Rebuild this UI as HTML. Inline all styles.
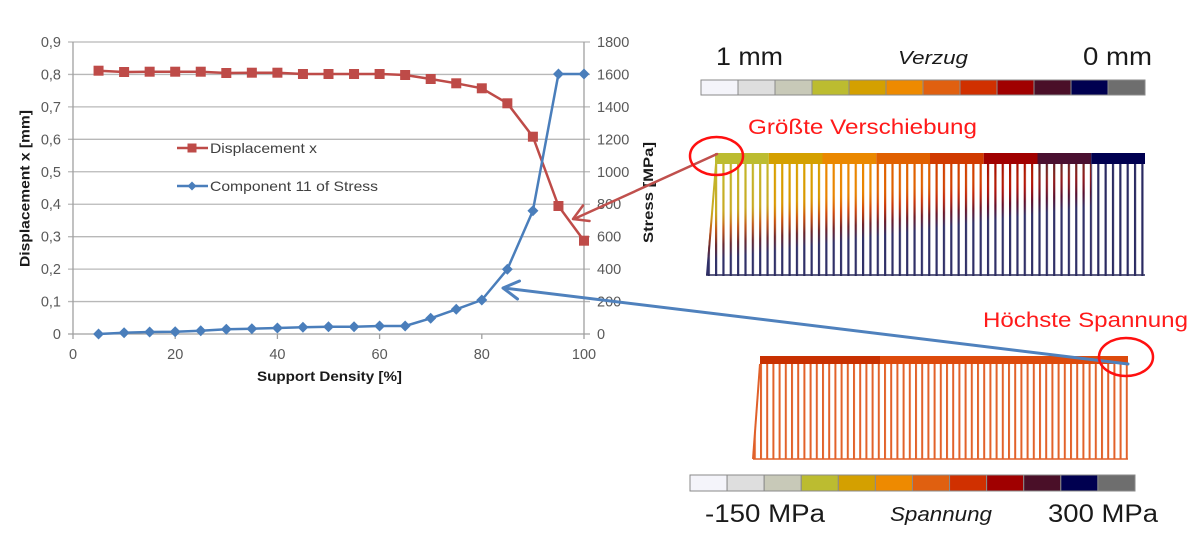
<!DOCTYPE html>
<html>
<head>
<meta charset="utf-8">
<style>
  html,body{margin:0;padding:0;background:#ffffff;}
  svg{display:block;}
  text{font-family:"Liberation Sans", Arial, sans-serif;}
</style>
</head>
<body>
<svg width="1200" height="558" viewBox="0 0 1200 558" xmlns="http://www.w3.org/2000/svg">
  <defs>
    <pattern id="pU" patternUnits="userSpaceOnUse" x="715" y="0" width="7.35" height="20">
      <rect x="0" y="0" width="2.2" height="20" fill="#ffffff"/>
    </pattern>
    <mask id="mU" maskUnits="userSpaceOnUse" x="690" y="160" width="470" height="120">
      <polygon points="715,164 1145,164 1145,276 706,276" fill="url(#pU)"/>
      <line x1="716" y1="164" x2="707" y2="275" stroke="#ffffff" stroke-width="2"/>
    </mask>
    <linearGradient id="gOv" gradientUnits="userSpaceOnUse" x1="913.8" y1="151" x2="925" y2="230">
      <stop offset="0" stop-color="#e07000" stop-opacity="0"/>
      <stop offset="0.4" stop-color="#e07000" stop-opacity="0.15"/>
      <stop offset="0.62" stop-color="#c02010" stop-opacity="0.6"/>
      <stop offset="0.82" stop-color="#5a1030" stop-opacity="0.85"/>
      <stop offset="1" stop-color="#303068" stop-opacity="1"/>
    </linearGradient>
    <pattern id="pL" patternUnits="userSpaceOnUse" x="760" y="0" width="6.2" height="20">
      <rect x="0" y="0" width="2.0" height="20" fill="#e2622a"/>
    </pattern>
  </defs>

  <!-- ===== Chart gridlines ===== -->
  <g stroke="#b8b8b8" stroke-width="1.3" fill="none">
    <line x1="68" y1="42" x2="590" y2="42"/>
    <line x1="68" y1="74.44" x2="590" y2="74.44"/>
    <line x1="68" y1="106.89" x2="590" y2="106.89"/>
    <line x1="68" y1="139.33" x2="590" y2="139.33"/>
    <line x1="68" y1="171.78" x2="590" y2="171.78"/>
    <line x1="68" y1="204.22" x2="590" y2="204.22"/>
    <line x1="68" y1="236.67" x2="590" y2="236.67"/>
    <line x1="68" y1="269.11" x2="590" y2="269.11"/>
    <line x1="68" y1="301.56" x2="590" y2="301.56"/>
  </g>
  <!-- axes -->
  <g stroke="#a0a0a0" stroke-width="1.3" fill="none">
    <line x1="73" y1="42" x2="73" y2="334"/>
    <line x1="584" y1="42" x2="584" y2="334"/>
    <line x1="68" y1="334" x2="590" y2="334"/>
    <line x1="73" y1="334" x2="73" y2="339"/>
    <line x1="175.2" y1="334" x2="175.2" y2="339"/>
    <line x1="277.4" y1="334" x2="277.4" y2="339"/>
    <line x1="379.6" y1="334" x2="379.6" y2="339"/>
    <line x1="481.8" y1="334" x2="481.8" y2="339"/>
    <line x1="584" y1="334" x2="584" y2="339"/>
  </g>

  <!-- left tick labels -->
  <g font-size="14.5" fill="#595959" text-anchor="end">
    <text x="61" y="47">0,9</text>
    <text x="61" y="79.4">0,8</text>
    <text x="61" y="111.9">0,7</text>
    <text x="61" y="144.3">0,6</text>
    <text x="61" y="176.8">0,5</text>
    <text x="61" y="209.2">0,4</text>
    <text x="61" y="241.7">0,3</text>
    <text x="61" y="274.1">0,2</text>
    <text x="61" y="306.6">0,1</text>
    <text x="61" y="339">0</text>
  </g>
  <!-- right tick labels -->
  <g font-size="14.5" fill="#595959" text-anchor="start">
    <text x="597" y="47">1800</text>
    <text x="597" y="79.4">1600</text>
    <text x="597" y="111.9">1400</text>
    <text x="597" y="144.3">1200</text>
    <text x="597" y="176.8">1000</text>
    <text x="597" y="209.2">800</text>
    <text x="597" y="241.7">600</text>
    <text x="597" y="274.1">400</text>
    <text x="597" y="306.6">200</text>
    <text x="597" y="339">0</text>
  </g>
  <!-- x tick labels -->
  <g font-size="14.5" fill="#595959" text-anchor="middle">
    <text x="73" y="359">0</text>
    <text x="175.2" y="359">20</text>
    <text x="277.4" y="359">40</text>
    <text x="379.6" y="359">60</text>
    <text x="481.8" y="359">80</text>
    <text x="584" y="359">100</text>
  </g>

  <!-- axis titles -->
  <text x="257" y="381" font-size="13.5" font-weight="bold" fill="#1a1a1a" textLength="145" lengthAdjust="spacingAndGlyphs">Support Density  [%]</text>
  <text transform="translate(29.5,267) rotate(-90)" x="0" y="0" font-size="13.5" font-weight="bold" fill="#1a1a1a" textLength="157" lengthAdjust="spacingAndGlyphs">Displacement x  [mm]</text>
  <text transform="translate(653,243) rotate(-90)" x="0" y="0" font-size="13.5" font-weight="bold" fill="#1a1a1a" textLength="101" lengthAdjust="spacingAndGlyphs">Stress [MPa]</text>

  <!-- legend -->
  <line x1="177" y1="148" x2="208" y2="148" stroke="#be4b48" stroke-width="2.5"/>
  <rect x="187.5" y="143.5" width="9" height="9" fill="#be4b48"/>
  <text x="210" y="153" font-size="14" fill="#404040" textLength="107" lengthAdjust="spacingAndGlyphs">Displacement x</text>
  <line x1="177" y1="186" x2="208" y2="186" stroke="#4a7ebb" stroke-width="2.5"/>
  <polygon points="192,181.5 196.5,186 192,190.5 187.5,186" fill="#4a7ebb"/>
  <text x="210" y="191" font-size="14" fill="#404040" textLength="168" lengthAdjust="spacingAndGlyphs">Component 11 of Stress</text>

  <!-- Displacement series -->
  <polyline fill="none" stroke="#be4b48" stroke-width="2.5" stroke-linejoin="round"
    points="98.55,70.7 124.1,72 149.65,71.7 175.2,71.7 200.75,71.7 226.3,73 251.85,72.7 277.4,72.7 302.95,74 328.5,74 354.05,74 379.6,74 405.15,75 430.7,79 456.25,83.3 481.8,88.3 507.35,103.3 532.9,136.7 558.45,206 584,240.7"/>
  <g fill="#be4b48">
    <rect x="93.55" y="65.7" width="10" height="10"/>
    <rect x="119.1" y="67" width="10" height="10"/>
    <rect x="144.65" y="66.7" width="10" height="10"/>
    <rect x="170.2" y="66.7" width="10" height="10"/>
    <rect x="195.75" y="66.7" width="10" height="10"/>
    <rect x="221.3" y="68" width="10" height="10"/>
    <rect x="246.85" y="67.7" width="10" height="10"/>
    <rect x="272.4" y="67.7" width="10" height="10"/>
    <rect x="297.95" y="69" width="10" height="10"/>
    <rect x="323.5" y="69" width="10" height="10"/>
    <rect x="349.05" y="69" width="10" height="10"/>
    <rect x="374.6" y="69" width="10" height="10"/>
    <rect x="400.15" y="70" width="10" height="10"/>
    <rect x="425.7" y="74" width="10" height="10"/>
    <rect x="451.25" y="78.3" width="10" height="10"/>
    <rect x="476.8" y="83.3" width="10" height="10"/>
    <rect x="502.35" y="98.3" width="10" height="10"/>
    <rect x="527.9" y="131.7" width="10" height="10"/>
    <rect x="553.45" y="201" width="10" height="10"/>
    <rect x="579" y="235.7" width="10" height="10"/>
  </g>

  <!-- Stress series -->
  <polyline fill="none" stroke="#4a7ebb" stroke-width="2.5" stroke-linejoin="round"
    points="98.55,334 124.1,332.7 149.65,332 175.2,331.7 200.75,330.7 226.3,329.3 251.85,328.7 277.4,328 302.95,327.3 328.5,326.7 354.05,326.7 379.6,326 405.15,326 430.7,318.3 456.25,309.3 481.8,300 507.35,269.3 532.9,210.7 558.45,74 584,74"/>
  <g fill="#4a7ebb">
    <polygon points="98.55,328.5 104,334 98.55,339.5 93.1,334"/>
    <polygon points="124.1,327.2 129.5,332.7 124.1,338.2 118.6,332.7"/>
    <polygon points="149.65,326.5 155.1,332 149.65,337.5 144.2,332"/>
    <polygon points="175.2,326.2 180.7,331.7 175.2,337.2 169.7,331.7"/>
    <polygon points="200.75,325.2 206.2,330.7 200.75,336.2 195.3,330.7"/>
    <polygon points="226.3,323.8 231.8,329.3 226.3,334.8 220.8,329.3"/>
    <polygon points="251.85,323.2 257.3,328.7 251.85,334.2 246.4,328.7"/>
    <polygon points="277.4,322.5 282.9,328 277.4,333.5 271.9,328"/>
    <polygon points="302.95,321.8 308.4,327.3 302.95,332.8 297.5,327.3"/>
    <polygon points="328.5,321.2 334,326.7 328.5,332.2 323,326.7"/>
    <polygon points="354.05,321.2 359.5,326.7 354.05,332.2 348.6,326.7"/>
    <polygon points="379.6,320.5 385.1,326 379.6,331.5 374.1,326"/>
    <polygon points="405.15,320.5 410.6,326 405.15,331.5 399.7,326"/>
    <polygon points="430.7,312.8 436.2,318.3 430.7,323.8 425.2,318.3"/>
    <polygon points="456.25,303.8 461.7,309.3 456.25,314.8 450.8,309.3"/>
    <polygon points="481.8,294.5 487.3,300 481.8,305.5 476.3,300"/>
    <polygon points="507.35,263.8 512.8,269.3 507.35,274.8 501.9,269.3"/>
    <polygon points="532.9,205.2 538.4,210.7 532.9,216.2 527.4,210.7"/>
    <polygon points="558.45,68.5 563.9,74 558.45,79.5 553,74"/>
    <polygon points="584,68.5 589.5,74 584,79.5 578.5,74"/>
  </g>

  <!-- ===== Top color bar (Verzug) ===== -->
  <text x="716" y="65" font-size="25" fill="#1a1a1a" textLength="67" lengthAdjust="spacingAndGlyphs">1 mm</text>
  <text x="898" y="64" font-size="18.5" font-style="italic" fill="#1a1a1a" textLength="70" lengthAdjust="spacingAndGlyphs">Verzug</text>
  <text x="1083" y="65" font-size="25" fill="#1a1a1a" textLength="69" lengthAdjust="spacingAndGlyphs">0 mm</text>
  <g stroke="#8a8a8a" stroke-width="1">
    <rect x="701" y="80" width="37" height="15" fill="#f4f4fa"/>
    <rect x="738" y="80" width="37" height="15" fill="#dedede"/>
    <rect x="775" y="80" width="37" height="15" fill="#c8c9b8"/>
    <rect x="812" y="80" width="37" height="15" fill="#bcbc30"/>
    <rect x="849" y="80" width="37" height="15" fill="#d4a000"/>
    <rect x="886" y="80" width="37" height="15" fill="#ee8a00"/>
    <rect x="923" y="80" width="37" height="15" fill="#e06010"/>
    <rect x="960" y="80" width="37" height="15" fill="#d03000"/>
    <rect x="997" y="80" width="37" height="15" fill="#a00000"/>
    <rect x="1034" y="80" width="37" height="15" fill="#4a0f28"/>
    <rect x="1071" y="80" width="37" height="15" fill="#000050"/>
    <rect x="1108" y="80" width="37" height="15" fill="#6e6e6e"/>
  </g>

  <text x="748" y="134" font-size="21" fill="#ff1a1a" textLength="229" lengthAdjust="spacingAndGlyphs">Größte Verschiebung</text>

  <!-- ===== Upper comb ===== -->
  <g>
    <rect x="715" y="153" width="53.75" height="11" fill="#bcbc30"/>
    <rect x="768.75" y="153" width="53.75" height="11" fill="#d4a000"/>
    <rect x="822.5" y="153" width="53.75" height="11" fill="#ea8800"/>
    <rect x="876.25" y="153" width="53.75" height="11" fill="#e06000"/>
    <rect x="930" y="153" width="53.75" height="11" fill="#d03a00"/>
    <rect x="983.75" y="153" width="53.75" height="11" fill="#a00000"/>
    <rect x="1037.5" y="153" width="53.75" height="11" fill="#4a1030"/>
    <rect x="1091.25" y="153" width="53.75" height="11" fill="#000050"/>
  </g>
  <g mask="url(#mU)">
    <rect x="695" y="164" width="73.75" height="112" fill="#c4b428"/>
    <rect x="768.75" y="164" width="53.75" height="112" fill="#d8a000"/>
    <rect x="822.5" y="164" width="53.75" height="112" fill="#ea8800"/>
    <rect x="876.25" y="164" width="53.75" height="112" fill="#e06000"/>
    <rect x="930" y="164" width="53.75" height="112" fill="#d03a00"/>
    <rect x="983.75" y="164" width="53.75" height="112" fill="#a00000"/>
    <rect x="1037.5" y="164" width="53.75" height="112" fill="#4a1030"/>
    <rect x="1091.25" y="164" width="60" height="112" fill="#2a2a62"/>
    <rect x="695" y="164" width="396.25" height="112" fill="url(#gOv)"/>
  </g>
  <line x1="706" y1="275" x2="1145" y2="275" stroke="#2a2a5a" stroke-width="1.5"/>

  <!-- ===== Lower comb ===== -->
  <rect x="760" y="356" width="120" height="8" fill="#c83000"/>
  <rect x="880" y="356" width="248" height="8" fill="#dd4a0c"/>
  <polygon points="760,364 1128,364 1128,459 753,459" fill="url(#pL)"/>
  <line x1="760" y1="364" x2="753" y2="459" stroke="#e0602a" stroke-width="2"/>
  <line x1="753" y1="459" x2="1128" y2="459" stroke="#e0602a" stroke-width="1.5"/>

  <text x="983" y="327" font-size="21" fill="#ff1a1a" textLength="205" lengthAdjust="spacingAndGlyphs">Höchste Spannung</text>

  <!-- ===== Bottom color bar (Spannung) ===== -->
  <g stroke="#8a8a8a" stroke-width="1">
    <rect x="690" y="475" width="37.08" height="16" fill="#f4f4fa"/>
    <rect x="727.08" y="475" width="37.08" height="16" fill="#dedede"/>
    <rect x="764.16" y="475" width="37.08" height="16" fill="#c8c9b8"/>
    <rect x="801.24" y="475" width="37.08" height="16" fill="#bcbc30"/>
    <rect x="838.32" y="475" width="37.08" height="16" fill="#d4a000"/>
    <rect x="875.4" y="475" width="37.08" height="16" fill="#ee8a00"/>
    <rect x="912.48" y="475" width="37.08" height="16" fill="#e06010"/>
    <rect x="949.56" y="475" width="37.08" height="16" fill="#d03000"/>
    <rect x="986.64" y="475" width="37.08" height="16" fill="#a00000"/>
    <rect x="1023.72" y="475" width="37.08" height="16" fill="#4a0f28"/>
    <rect x="1060.8" y="475" width="37.08" height="16" fill="#000050"/>
    <rect x="1097.88" y="475" width="37.12" height="16" fill="#6e6e6e"/>
  </g>
  <text x="705" y="522" font-size="25" fill="#1a1a1a" textLength="120" lengthAdjust="spacingAndGlyphs">-150 MPa</text>
  <text x="890" y="521" font-size="20" font-style="italic" fill="#1a1a1a" textLength="102" lengthAdjust="spacingAndGlyphs">Spannung</text>
  <text x="1048" y="522" font-size="25" fill="#1a1a1a" textLength="110" lengthAdjust="spacingAndGlyphs">300 MPa</text>

  <!-- ===== Arrows ===== -->
  <g stroke="#c0504d" stroke-width="2.5" fill="none" stroke-linecap="round" stroke-linejoin="round">
    <line x1="717" y1="154" x2="574" y2="219"/>
    <polyline points="589.5,221 573,219 583,205.5"/>
  </g>
  <g stroke="#4f81bd" stroke-width="3" fill="none" stroke-linecap="round" stroke-linejoin="round">
    <line x1="1128" y1="364" x2="504" y2="288"/>
    <polyline points="517.5,299 503,288 519.5,281"/>
  </g>

  <!-- red circles -->
  <ellipse cx="716.5" cy="156" rx="26.5" ry="19" fill="none" stroke="#ff1010" stroke-width="2.5"/>
  <ellipse cx="1126" cy="357" rx="27" ry="19" fill="none" stroke="#ff1010" stroke-width="2.5"/>
</svg>
</body>
</html>
